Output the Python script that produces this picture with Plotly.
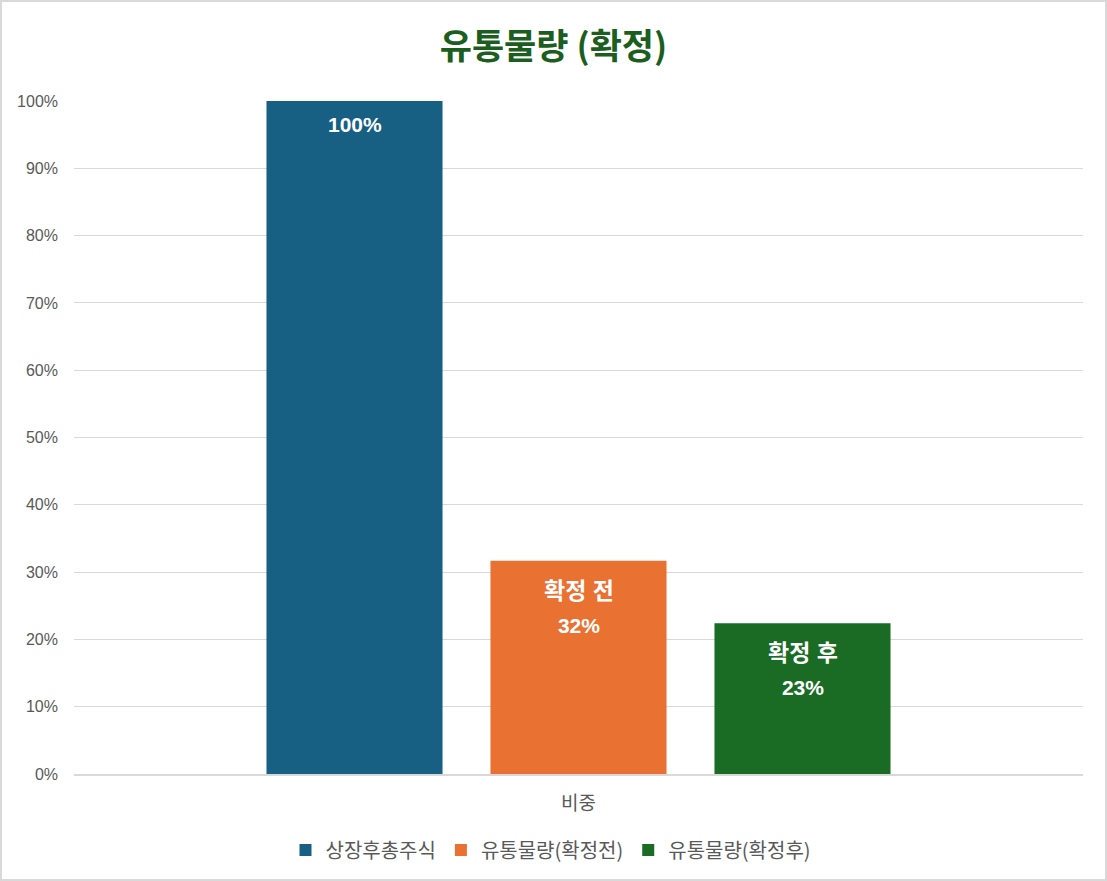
import plotly.graph_objects as go

category = ["비중"]
series_names = ["상장후총주식", "유통물량(확정전)", "유통물량(확정후)"]
series_values = [1.0, 0.317, 0.224]
bar_labels = ["<b><span style='font-size:21px'>100%</span></b>",
              "<b><span style='font-size:23px'>확정 전</span><br><span style='font-size:21px'>32%</span></b>",
              "<b><span style='font-size:23px'>확정 후</span><br><span style='font-size:21px'>23%</span></b>"]
label_drop = [23, 47, 46]  # px below bar top (label centre)
colors = ["#176084", "#E97132", "#1A6B24"]
y_ticks = [i / 10 for i in range(11)]

font = "Liberation Sans, Arial, Noto Sans CJK KR"
bargap = 0.334

fig = go.Figure()
for name, val, col in zip(series_names, series_values, colors):
    fig.add_trace(go.Bar(
        x=category, y=[val], name=name, marker=dict(color=col, line=dict(width=0)),
        hoverinfo="skip",
    ))

# labels inside the bar tops; x in category units from the group layout
n = len(series_values)
slot = (1 - bargap) / n
annotations = []
for i, (val, lab, drop) in enumerate(zip(series_values, bar_labels, label_drop)):
    annotations.append(dict(
        x=(i - (n - 1) / 2) * slot, xref="x", y=val, yref="y",
        yanchor="middle", yshift=-drop, showarrow=False, text=lab,
        font=dict(color="white", size=26, family=font),
    ))

W, H = 1107, 881
ml, mr, mt, mb = 74, 24, 101, 107
pw, ph = W - ml - mr, H - mt - mb

fig.update_layout(
    width=W, height=H,
    margin=dict(l=ml, r=mr, t=mt, b=mb),
    paper_bgcolor="white", plot_bgcolor="white",
    barmode="group", bargap=bargap, bargroupgap=0.214,
    title=dict(text="<b>유통물량 (확정)</b>", x=0.5, xanchor="center",
               y=1 - 47 / H, yanchor="middle",
               font=dict(size=35, color="#1B5E20", family="Noto Sans CJK KR")),
    font=dict(family=font, color="#595959"),
    yaxis=dict(range=[0, 1], tickvals=y_ticks, tickformat=".0%",
               showgrid=True, gridcolor="#D9D9D9", gridwidth=1.3,
               zeroline=False, showline=False,
               tickfont=dict(size=16, color="#595959"), ticks="",
               ticklabelstandoff=15),
    xaxis=dict(showline=True, linecolor="#D9D9D9", linewidth=1.5,
               tickfont=dict(size=19, color="#595959", family="Noto Sans CJK KR"),
               ticks="", ticklabelstandoff=11),
    legend=dict(orientation="h", x=(551 - ml) / pw, xanchor="center", y=-(850 - 774) / ph,
                yanchor="middle", font=dict(size=20, color="#595959", family="Noto Sans CJK KR"),
                itemwidth=30, traceorder="normal"),
    showlegend=True,
    annotations=annotations,
    shapes=[dict(type="rect", xref="paper", yref="paper",
                 x0=-ml / pw + 1 / pw, x1=1 + mr / pw - 1 / pw,
                 y0=-mb / ph + 1 / ph, y1=1 + mt / ph - 1 / ph,
                 line=dict(color="#D9D9D9", width=2), layer="below")],
)

fig.write_html("out.html", config={"displayModeBar": False},
               post_script="document.body.style.margin='0';")
